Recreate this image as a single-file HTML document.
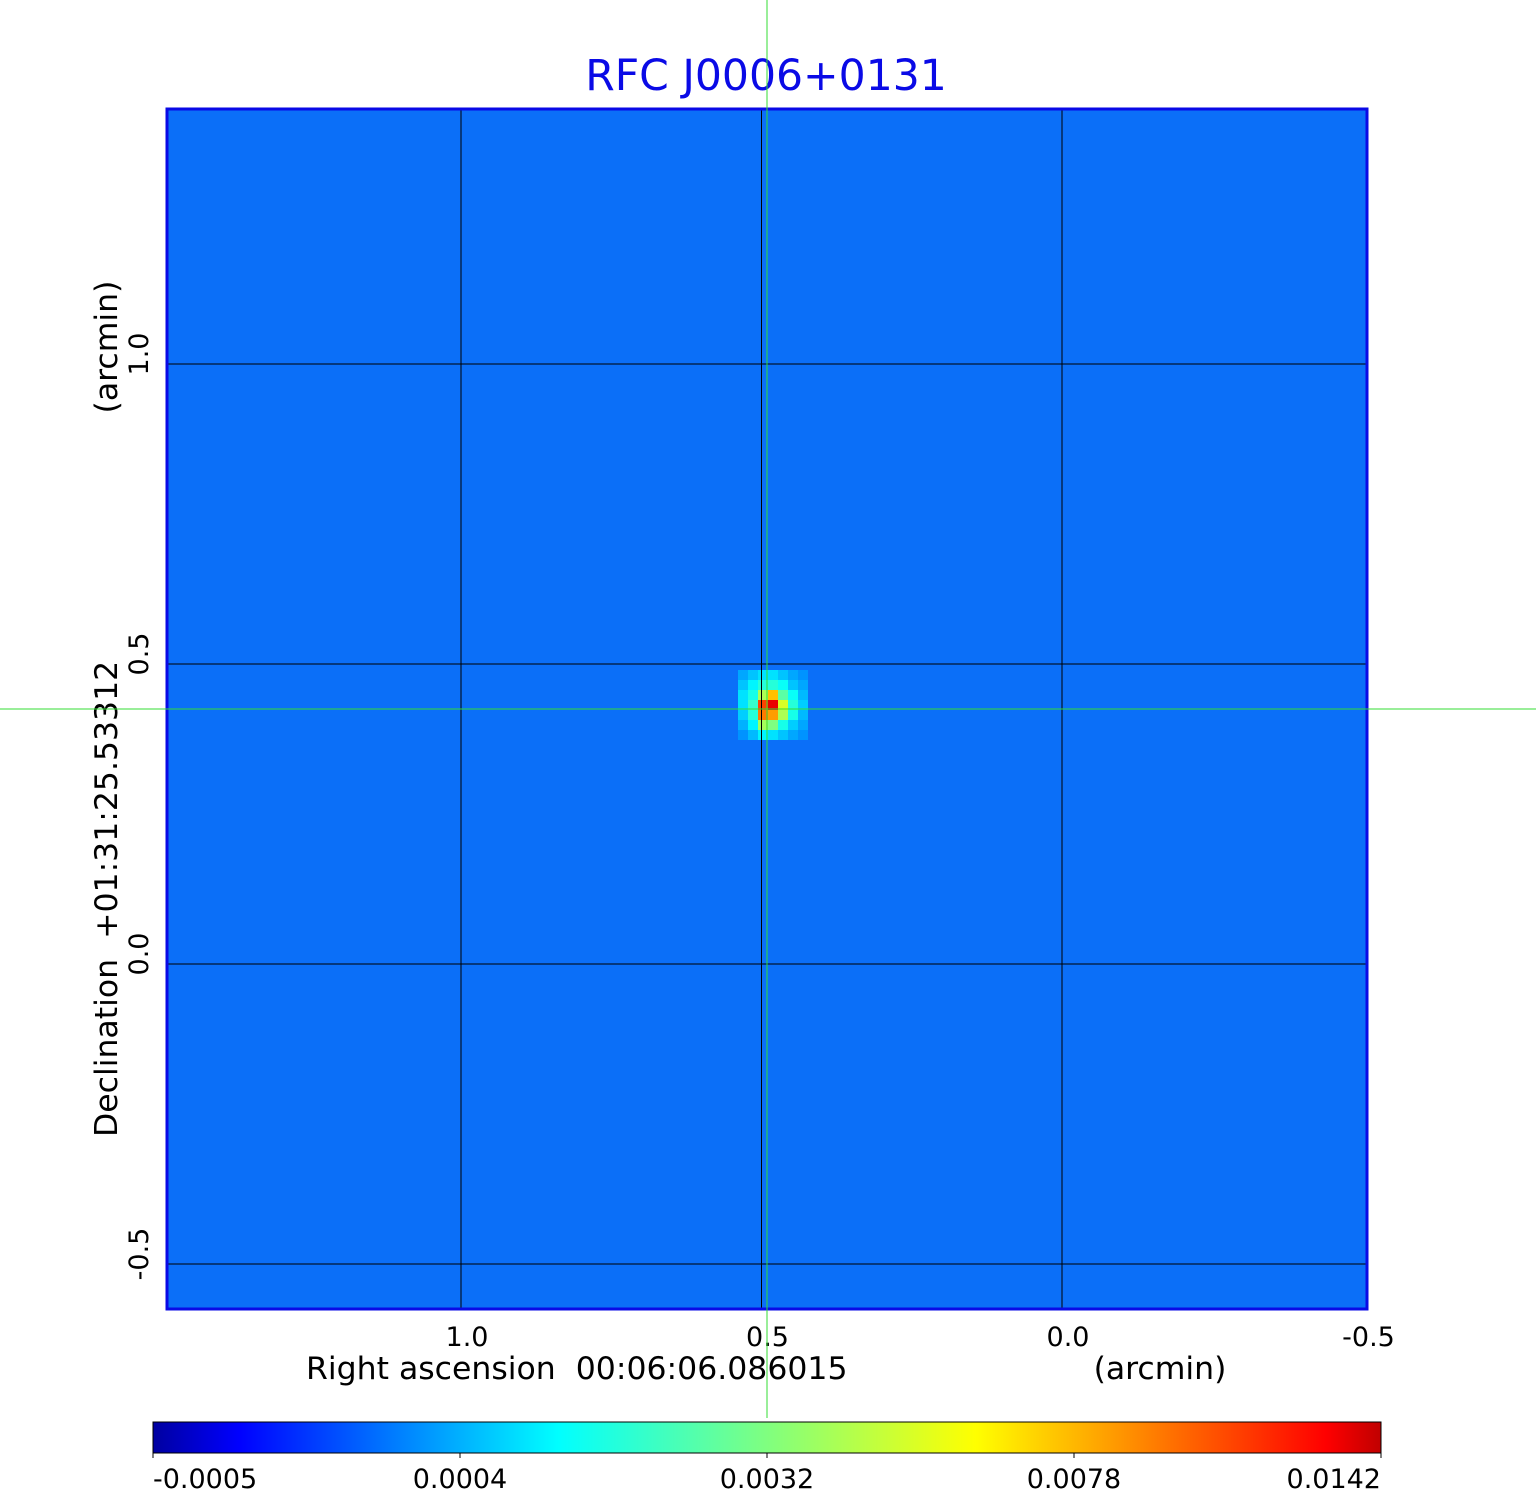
<!DOCTYPE html>
<html><head><meta charset="utf-8"><style>
html,body{margin:0;padding:0;background:#fff;}
svg{display:block;font-family:"DejaVu Sans","Liberation Sans",sans-serif;}
text{white-space:pre;}
</style></head><body>
<svg id="chart" width="1536" height="1511" viewBox="0 0 1536 1511">
<defs>
<linearGradient id="jet" x1="0" x2="1" y1="0" y2="0">
<stop offset="0" stop-color="#0000a0"/><stop offset="0.07" stop-color="#0000ff"/>
<stop offset="0.33" stop-color="#00ffff"/><stop offset="0.67" stop-color="#ffff00"/>
<stop offset="0.955" stop-color="#ff0000"/><stop offset="1" stop-color="#c00000"/>
</linearGradient>
</defs>
<text x="766" y="90" font-size="42.5" fill="#0a0ae6" text-anchor="middle">RFC J0006+0131</text>
<rect x="167" y="109" width="1200" height="1200" fill="#0b6ff8"/>
<g id="cells"></g>
<g id="grid"></g>
<rect x="167" y="109" width="1200" height="1200" fill="none" stroke="#0a0ae6" stroke-width="3"/>
<g id="ticks"></g>
<text x="306" y="1379" font-size="31.5" fill="#000">Right ascension&#160;&#160;00:06:06.086015</text>
<text x="1160" y="1379" font-size="31.5" fill="#000" text-anchor="middle">(arcmin)</text>
<text transform="translate(117,1137) rotate(-90)" font-size="31.5" fill="#000">Declination&#160;&#160;+01:31:25.53312</text>
<text transform="translate(117,347) rotate(-90)" font-size="31.5" fill="#000" text-anchor="middle">(arcmin)</text>
<rect x="153" y="1422" width="1228" height="31" fill="url(#jet)" stroke="#000" stroke-width="1"/>
<g id="cbticks"></g>
<line x1="767" y1="0" x2="767" y2="1418" stroke="#33dd33" stroke-width="1"/>
<line x1="0" y1="709" x2="1536" y2="709" stroke="#33dd33" stroke-width="1"/>
</svg>
<script>
const NS="http://www.w3.org/2000/svg";
const xTicks=[1.0,0.5,0.0,-0.5];
const xTickLabels=["1.0","0.5","0.0","-0.5"];
const yTicks=[1.0,0.5,0.0,-0.5];
const yTickLabels=["1.0","0.5","0.0","-0.5"];
const cbTickLabels=["-0.0005","0.0004","0.0032","0.0078","0.0142"];
// source cell values (normalized colormap 0..1), rows top->bottom
const srcRow0=[0.24,0.27,0.3,0.3,0.27,0.24,0.22];
const srcRow1=[0.27,0.32,0.38,0.38,0.34,0.27,0.24];
const srcRow2=[0.3,0.36,0.56,0.74,0.45,0.34,0.26];
const srcRow3=[0.3,0.4,0.88,0.97,0.62,0.38,0.28];
const srcRow4=[0.28,0.38,0.82,0.78,0.56,0.36,0.26];
const srcRow5=[0.25,0.32,0.55,0.5,0.36,0.28,0.24];
const srcRow6=[0.22,0.26,0.32,0.3,0.27,0.24,0.22];
const srcRows=[srcRow0,srcRow1,srcRow2,srcRow3,srcRow4,srcRow5,srcRow6];
const srcCol0=57, srcRowStart=56;
const xs=v=>1062-v*601;
const ys=v=>964-v*600;
const cellX=c=>168+c*10, cellY=r=>110+r*10;
const cstops=[[0,[0,0,160]],[0.07,[0,0,255]],[0.33,[0,255,255]],[0.67,[255,255,0]],[0.955,[255,0,0]],[1,[192,0,0]]];
function jet(t){
  for(let i=1;i<cstops.length;i++){
    if(t<=cstops[i][0]){const a=cstops[i-1],b=cstops[i],f=(t-a[0])/(b[0]-a[0]);
      return 'rgb('+a[1].map((c,k)=>Math.round(c+(b[1][k]-c)*f)).join(',')+')';}
  }
  return 'rgb(192,0,0)';
}
const cells=document.getElementById('cells');
srcRows.forEach((row,i)=>row.forEach((v,j)=>{
  const r=document.createElementNS(NS,'rect');
  r.setAttribute('x',cellX(srcCol0+j));r.setAttribute('y',cellY(srcRowStart+i));
  r.setAttribute('width',10);r.setAttribute('height',10);r.setAttribute('fill',jet(v));
  
  
  cells.appendChild(r);
}));
const grid=document.getElementById('grid'), ticks=document.getElementById('ticks');
xTicks.forEach((v,i)=>{
  const x=xs(v);
  if(x>170&&x<1350){const l=document.createElementNS(NS,'line');
  l.setAttribute('x1',x);l.setAttribute('x2',x);l.setAttribute('y1',109);l.setAttribute('y2',1309);
  l.setAttribute('stroke','#000');l.setAttribute('stroke-width','1');
  
  
  grid.appendChild(l);}
  const t=document.createElementNS(NS,'text');
  t.setAttribute('x',x+6);t.setAttribute('y',1346);t.setAttribute('font-size','27');t.setAttribute('text-anchor','middle');
  t.textContent=xTickLabels[i];
  
  
  ticks.appendChild(t);
});
yTicks.forEach((v,i)=>{
  const y=ys(v);
  const l=document.createElementNS(NS,'line');
  l.setAttribute('x1',167);l.setAttribute('x2',1367);l.setAttribute('y1',y);l.setAttribute('y2',y);
  l.setAttribute('stroke','#000');l.setAttribute('stroke-width','1');
  
  
  grid.appendChild(l);
  const t=document.createElementNS(NS,'text');
  t.setAttribute('transform',`translate(148,${y-10}) rotate(-90)`);t.setAttribute('font-size','27');t.setAttribute('text-anchor','middle');
  t.textContent=yTickLabels[i];
  
  
  ticks.appendChild(t);
});
const cb=document.getElementById('cbticks');
const nCb=cbTickLabels.length;
cbTickLabels.forEach((s,i)=>{
  const x=153+i*(1228/(nCb-1));
  const l=document.createElementNS(NS,'line');
  l.setAttribute('x1',x);l.setAttribute('x2',x);l.setAttribute('y1',1453);l.setAttribute('y2',1458);l.setAttribute('stroke','#000');
  
  
  cb.appendChild(l);
  const t=document.createElementNS(NS,'text');
  t.setAttribute('x',x);t.setAttribute('y',1488);t.setAttribute('font-size','27');
  t.setAttribute('text-anchor',i===0?'start':(i===nCb-1?'end':'middle'));
  t.textContent=s;
  
  
  cb.appendChild(t);
});
</script>
</body></html>
